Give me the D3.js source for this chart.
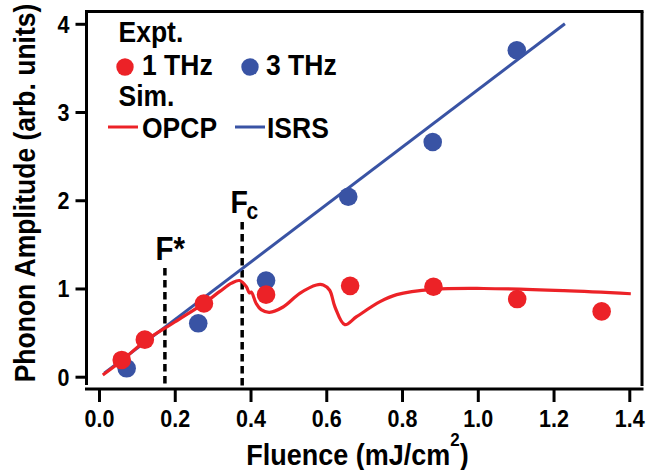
<!DOCTYPE html>
<html><head><meta charset="utf-8">
<script src="https://cdn.jsdelivr.net/npm/d3@7"></script>
<style>
html,body{margin:0;padding:0;background:#fff;}
text{font-family:"Liberation Sans",Arial,Helvetica,sans-serif;font-weight:bold;fill:#000;}
</style></head>
<body><svg id="c" width="668" height="470"></svg>
<script>
// ---- data ----
const xTicks = [0, 0.2, 0.4, 0.6, 0.8, 1.0, 1.2, 1.4];
const yTicks = [0, 1, 2, 3, 4];
const red1X = [0.060, 0.121, 0.277, 0.441, 0.663, 0.883, 1.104, 1.327];
const red1Y = [0.19, 0.42, 0.83, 0.93, 1.03, 1.02, 0.88, 0.74];
const blue3X = [0.073, 0.262, 0.441, 0.658, 0.881, 1.103];
const blue3Y = [0.095, 0.605, 1.09, 2.04, 2.66, 3.70];
const opcpX = [0.01, 0.06, 0.12, 0.2, 0.28, 0.32, 0.35, 0.371, 0.389, 0.397, 0.402, 0.415, 0.428, 0.45, 0.486, 0.53, 0.574, 0.592, 0.609, 0.623, 0.649, 0.68, 0.742, 0.786, 0.883, 1.015, 1.227, 1.404];
const opcpY = [0.02, 0.18, 0.40, 0.62, 0.84, 0.97, 1.06, 1.09, 1.02, 0.95, 0.96, 0.83, 0.76, 0.73, 0.79, 0.945, 1.04, 1.04, 0.98, 0.79, 0.59, 0.68, 0.85, 0.93, 0.99, 1.00, 0.975, 0.94];
const isrsX = [0.014, 1.230];
const isrsY = [0.04, 4.0];
const fStar = 0.174, fC = 0.378;

// ---- layout ----
const RED = "#ec2227", BLUE = "#3953a4";
const SY = 1.1; // vertical stretch of the lettering
const svg = d3.select("#c");
const x = d3.scaleLinear().domain([0, 1.4]).range([99, 629.3]);
const y = d3.scaleLinear().domain([0, 4]).range([376.7, 23.8]);
const L = 86.5, R = 642, T = 11.5, B = 389;

function txt(parent, px, py, size, str, anchor) {
  return parent.append("text")
    .attr("transform", `translate(${px},${py}) scale(1,${SY})`)
    .attr("text-anchor", anchor || "start")
    .style("font-size", size + "px").text(str);
}

// frame
svg.append("line").attr("x1", L - 1.5).attr("x2", R + 1.5).attr("y1", T).attr("y2", T).attr("stroke", "#000").attr("stroke-width", 3);
svg.append("line").attr("x1", R).attr("x2", R).attr("y1", T).attr("y2", B - 3).attr("stroke", "#000").attr("stroke-width", 3);

// axes
const gx = svg.append("g").attr("transform", `translate(0,${B})`)
  .call(d3.axisBottom(x).tickValues(xTicks).tickSize(13).tickFormat(d3.format(".1f")));
gx.select(".domain").attr("d", `M${L - 1.5},0H${R + 1.5}`).attr("stroke-width", 3);
gx.selectAll(".tick line").attr("stroke-width", 3);
gx.selectAll(".tick text").style("font-size", "21.5px").attr("y", 0).attr("dy", 0)
  .attr("transform", `translate(0,37.5) scale(1,${SY})`);

const gy = svg.append("g").attr("transform", `translate(${L},0)`)
  .call(d3.axisLeft(y).tickValues(yTicks).tickSize(11).tickFormat(d3.format("d")));
gy.select(".domain").attr("d", `M0,${T + 1}V${B - 4}`).attr("stroke-width", 3);
gy.selectAll(".tick line").attr("stroke-width", 3);
gy.selectAll(".tick text").style("font-size", "21.5px").attr("x", 0).attr("dy", 0)
  .attr("transform", `translate(-17,8.5) scale(1,${SY})`);

// dashed markers
svg.append("line").attr("x1", x(fStar)).attr("x2", x(fStar)).attr("y1", 268).attr("y2", B)
  .attr("stroke", "#000").attr("stroke-width", 3.5).attr("stroke-dasharray", "7.5,4.5");
svg.append("line").attr("x1", x(fC)).attr("x2", x(fC)).attr("y1", 222).attr("y2", B)
  .attr("stroke", "#000").attr("stroke-width", 3.5).attr("stroke-dasharray", "7.5,4.5");
txt(svg, 155.5, 260, 29.5, "F*");
const fcT = txt(svg, 230.5, 213, 28.5, null);
fcT.append("tspan").text("F");
fcT.append("tspan").attr("dy", 5).attr("dx", -1.5).style("font-size", "21px").text("c");

// lines
const lineGen = d3.line().x(d => x(d[0])).y(d => y(d[1]));
svg.append("path").datum(isrsX.map((v, i) => [v, isrsY[i]]))
  .attr("d", lineGen).attr("fill", "none").attr("stroke", BLUE).attr("stroke-width", 3);
svg.append("path").datum(opcpX.map((v, i) => [v, opcpY[i]]))
  .attr("d", lineGen.curve(d3.curveCatmullRom.alpha(0.5))).attr("fill", "none")
  .attr("stroke", RED).attr("stroke-width", 3.2).attr("stroke-linejoin", "round");

// points
svg.append("g").selectAll("circle").data(blue3X.map((v, i) => [v, blue3Y[i]])).join("circle")
  .attr("cx", d => x(d[0])).attr("cy", d => y(d[1])).attr("r", 9.3).attr("fill", BLUE);
svg.append("g").selectAll("circle").data(red1X.map((v, i) => [v, red1Y[i]])).join("circle")
  .attr("cx", d => x(d[0])).attr("cy", d => y(d[1])).attr("r", 9.3).attr("fill", RED);

// legend
const lg = svg.append("g");
const LF = 26.5;
txt(lg, 118.5, 42, LF, "Expt.");
lg.append("circle").attr("cx", 125).attr("cy", 67).attr("r", 8.7).attr("fill", RED);
txt(lg, 142, 75, LF, "1 THz");
lg.append("circle").attr("cx", 250).attr("cy", 67).attr("r", 8.7).attr("fill", BLUE);
txt(lg, 266, 75, LF, "3 THz");
txt(lg, 118.5, 106, LF, "Sim.");
lg.append("line").attr("x1", 108).attr("x2", 138).attr("y1", 127).attr("y2", 127).attr("stroke", RED).attr("stroke-width", 3);
txt(lg, 142, 138, LF, "OPCP");
lg.append("line").attr("x1", 235).attr("x2", 265).attr("y1", 127).attr("y2", 127).attr("stroke", BLUE).attr("stroke-width", 3);
txt(lg, 267, 138, LF, "ISRS");

// axis titles
const xt = txt(svg, 357.5, 465, 27, null, "middle");
xt.append("tspan").text("Fluence (mJ/cm");
xt.append("tspan").attr("dy", -17).style("font-size", "17px").text("2");
xt.append("tspan").attr("dy", 17).text(")");
svg.append("text").attr("transform", `translate(35,193) rotate(-90) scale(1,${SY})`).attr("text-anchor", "middle")
  .style("font-size", "26.5px").text("Phonon Amplitude (arb. units)");
</script></body></html>
